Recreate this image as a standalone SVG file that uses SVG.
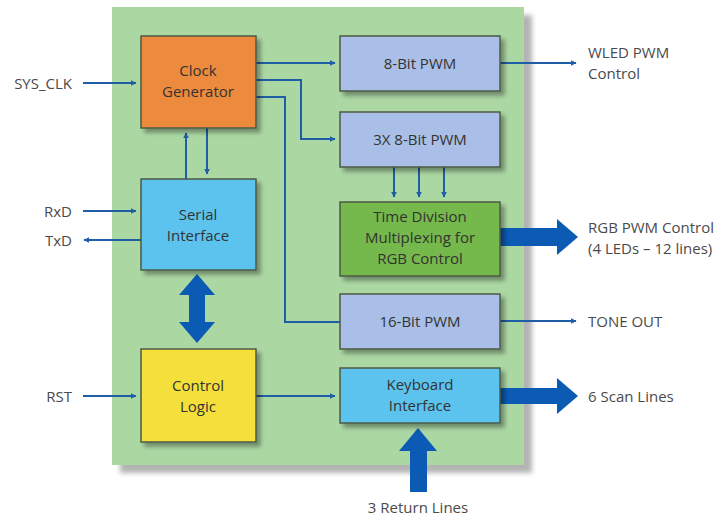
<svg xmlns="http://www.w3.org/2000/svg" width="720" height="519" viewBox="0 0 720 519">
<defs>
<marker id="ah" viewBox="0 0 10 10" refX="9" refY="5" markerWidth="6" markerHeight="6" markerUnits="userSpaceOnUse" orient="auto"><path d="M0,0 L10,5 L0,10 z" fill="#1f5da6"/></marker>
<filter id="sh" x="-10%" y="-10%" width="130%" height="130%"><feGaussianBlur in="SourceAlpha" stdDeviation="2"/><feOffset dx="4" dy="4"/><feComponentTransfer><feFuncA type="linear" slope="0.35"/></feComponentTransfer><feMerge><feMergeNode/><feMergeNode in="SourceGraphic"/></feMerge></filter>
<filter id="bgsh" x="-5%" y="-5%" width="110%" height="110%"><feGaussianBlur in="SourceAlpha" stdDeviation="2.5"/><feOffset dx="8" dy="8"/><feComponentTransfer><feFuncA type="linear" slope="0.3"/></feComponentTransfer><feMerge><feMergeNode/><feMergeNode in="SourceGraphic"/></feMerge></filter>
</defs>
<style>
.box{stroke:#4d5a46;stroke-width:1.5;filter:url(#sh)}
.t{font-family:"Open Sans","Noto Sans",sans-serif;font-size:15px;fill:#333;text-anchor:middle}
.l{font-family:"Open Sans","Noto Sans",sans-serif;font-size:15px;fill:#4a4a4a}
.c{stroke:#1f5da6;stroke-width:2;fill:none;marker-end:url(#ah)}
.big{fill:#0b5ab4}
</style>
<rect x="0" y="0" width="720" height="519" fill="#fff"/>
<rect id="bg" x="112" y="7" width="412" height="458" fill="#abd7a3" filter="url(#bgsh)"/>
<g id="connectors">
<path class="c" d="M83,83 H136"/>
<path class="c" d="M83,211 H136"/>
<path class="c" d="M141,240 H84"/>
<path class="c" d="M83,396 H136"/>
<path class="c" d="M256,63 H335"/>
<path class="c" d="M256,80 H301 V139 H335"/>
<path class="c" d="M256,97 H285 V322 H340" style="marker-end:none"/>
<path class="c" d="M186,179 V133"/>
<path class="c" d="M207,128 V174"/>
<path class="c" d="M256,396 H335"/>
<path class="c" d="M500,63 H576"/>
<path class="c" d="M500,321 H576"/>
<path class="c" d="M394,167 V197"/>
<path class="c" d="M419,167 V197"/>
<path class="c" d="M444,167 V197"/>
<path class="big" d="M197,274 L215,295 L205,295 L205,322 L215,322 L197,343 L179,322 L189,322 L189,295 L179,295 z"/>
<path class="big" d="M500,228 H557 V219 L578,237 L557,255 V246 H500 z"/>
<path class="big" d="M500,388 H557 V378 L578,396 L557,414 V404 H500 z"/>
<path class="big" d="M410,492 V451 H399 L418,428 L437,451 H427 V492 z"/>
</g>
<g id="clock"><rect class="box" x="141" y="36" width="115" height="92" fill="#ec8a3d"/><text class="t" x="198" y="76">Clock</text><text class="t" x="198" y="97">Generator</text></g>
<g id="serial"><rect class="box" x="141" y="179" width="115" height="91" fill="#5cc3ee"/><text class="t" x="198" y="220">Serial</text><text class="t" x="198" y="241">Interface</text></g>
<g id="control"><rect class="box" x="141" y="349" width="115" height="93" fill="#f5df3a"/><text class="t" x="198" y="391">Control</text><text class="t" x="198" y="412">Logic</text></g>
<g id="pwm8"><rect class="box" x="340" y="36" width="160" height="55" fill="#a9bfe7"/><text class="t" x="420" y="69">8-Bit PWM</text></g>
<g id="pwm3x"><rect class="box" x="340" y="112" width="160" height="55" fill="#a9bfe7"/><text class="t" x="420" y="145">3X 8-Bit PWM</text></g>
<g id="tdm"><rect class="box" x="340" y="202" width="160" height="74" fill="#74b84b"/><text class="t" x="420" y="222">Time Division</text><text class="t" x="420" y="243">Multiplexing for</text><text class="t" x="420" y="264">RGB Control</text></g>
<g id="pwm16"><rect class="box" x="340" y="294" width="160" height="55" fill="#a9bfe7"/><text class="t" x="420" y="327">16-Bit PWM</text></g>
<g id="keyboard"><rect class="box" x="340" y="368" width="160" height="55" fill="#5cc3ee"/><text class="t" x="420" y="390">Keyboard</text><text class="t" x="420" y="411">Interface</text></g>
<g id="labels">
<text class="l" x="72" y="89" text-anchor="end">SYS_CLK</text>
<text class="l" x="72" y="217" text-anchor="end">RxD</text>
<text class="l" x="72" y="246" text-anchor="end">TxD</text>
<text class="l" x="72" y="402" text-anchor="end">RST</text>
<text class="l" x="588" y="58">WLED PWM</text>
<text class="l" x="588" y="79">Control</text>
<text class="l" x="588" y="233">RGB PWM Control</text>
<text class="l" x="588" y="254">(4 LEDs – 12 lines)</text>
<text class="l" x="588" y="327">TONE OUT</text>
<text class="l" x="588" y="402">6 Scan Lines</text>
<text class="l" x="418" y="513" text-anchor="middle">3 Return Lines</text>
</g>
</svg>
